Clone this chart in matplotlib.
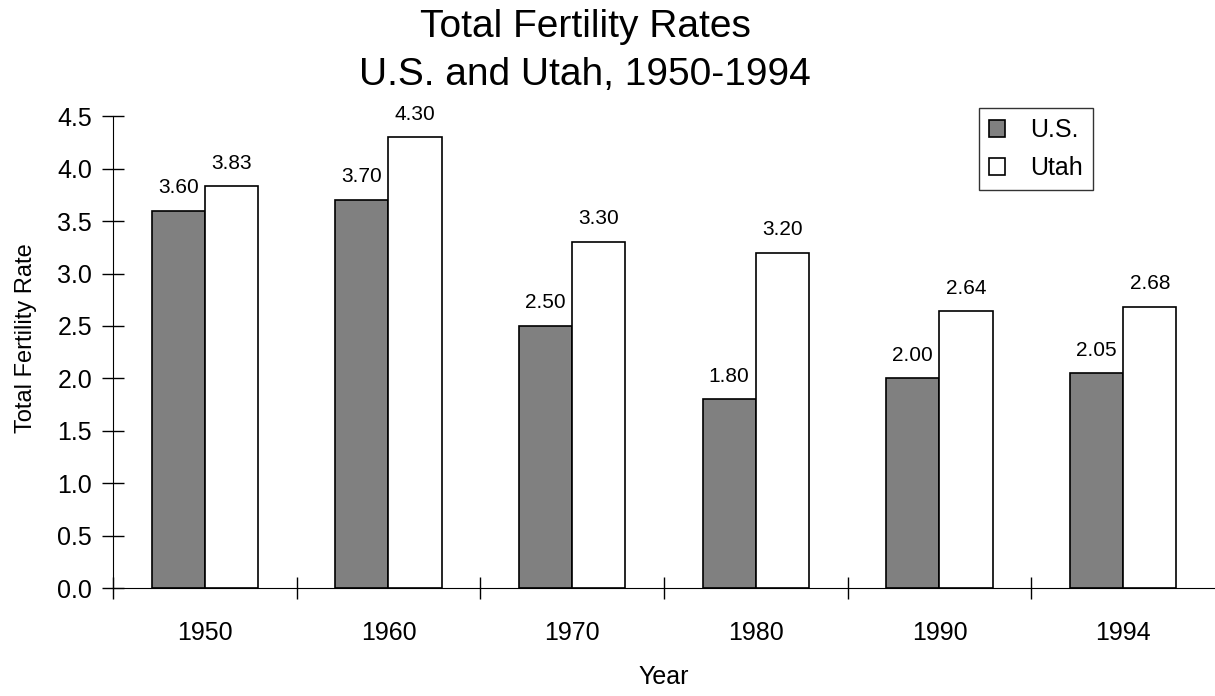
import matplotlib.pyplot as plt
import numpy as np

plt.rcParams['font.family'] = ['Liberation Sans', 'DejaVu Sans']

# data
years = ["1950", "1960", "1970", "1980", "1990", "1994"]
us = [3.60, 3.70, 2.50, 1.80, 2.00, 2.05]
utah = [3.83, 4.30, 3.30, 3.20, 2.64, 2.68]

x = np.arange(len(years))
w = 0.29

fig = plt.figure(figsize=(12.15, 6.96), dpi=100)
ax = fig.add_axes([0.093, 0.155, 0.907, 0.678])

b1 = ax.bar(x - w/2, us, w, color="#808080", edgecolor="black", linewidth=1.2, label="U.S.")
b2 = ax.bar(x + w/2, utah, w, color="white", edgecolor="black", linewidth=1.2, label="Utah")

for bars, vals in ((b1, us), (b2, utah)):
    for b, v in zip(bars, vals):
        ax.text(b.get_x() + b.get_width()/2, v + 0.13, "%.2f" % v,
                ha="center", va="bottom", fontsize=15)

ax.set_xlim(-0.5, 5.5)
ax.set_ylim(0, 4.5)
yt = np.arange(0, 4.51, 0.5)
ax.set_yticks(yt)
ax.set_yticklabels(["%.1f" % t for t in yt], fontsize=18)

# ticks between the groups, labels centred under groups
ax.set_xticks(np.arange(-0.5, 5.0, 1.0))
ax.set_xticklabels([])
ax.set_xticks(x, minor=True)
ax.set_xticklabels(years, minor=True, fontsize=18)
ax.tick_params(axis="x", which="minor", length=0, pad=24)
ax.tick_params(axis="x", which="major", direction="inout", length=16, width=1)
ax.tick_params(axis="y", direction="inout", length=16, width=1, pad=7)

for s in ("top", "right"):
    ax.spines[s].set_visible(False)

ax.set_ylabel("Total Fertility Rate", fontsize=17)
ax.yaxis.set_label_coords(-0.069, 0.53)
ax.set_xlabel("Year", fontsize=18, labelpad=14)

# two-line title, centred a little left of the axes centre
fig.text(585/1215, 1 - 37/696, "Total Fertility Rates", ha="center", va="baseline", fontsize=28)
fig.text(585/1215, 1 - 85/696, "U.S. and Utah, 1950-1994", ha="center", va="baseline", fontsize=28)

leg = ax.legend(loc="upper left", bbox_to_anchor=((979 - 113)/1102, (588 - 108)/472),
                fontsize=18, frameon=True, fancybox=False, edgecolor="black",
                handlelength=0.65, handleheight=0.65, handletextpad=1.0,
                borderpad=0.4, labelspacing=0.55, borderaxespad=0)
leg.get_frame().set_linewidth(1)

fig.savefig("out.png")
